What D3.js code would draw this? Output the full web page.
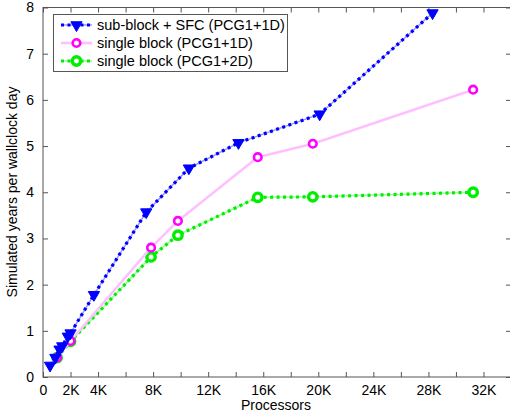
<!DOCTYPE html>
<html>
<head>
<meta charset="utf-8">
<script src="https://cdn.jsdelivr.net/npm/d3@7"></script>
<style>
  body { margin: 0; background: #fff; }
  text { font-family: "Liberation Sans", Arial, sans-serif; }
</style>
</head>
<body>
<div id="chart"></div>
<script>
// data
var seriesNames = ["sub-block + SFC (PCG1+1D)", "single block (PCG1+1D)", "single block (PCG1+2D)"];
var sfcProcs = [512, 900, 1200, 1400, 1800, 2000, 3700, 7500, 10600, 14200, 20100, 28300];
var sfcYears = [0.25, 0.42, 0.6, 0.67, 0.88, 0.95, 1.78, 3.57, 4.52, 5.07, 5.69, 7.88];
var singleProcs = [1024, 2000, 7850, 9800, 15600, 19600, 31250];
var single1dYears = [0.42, 0.78, 2.8, 3.38, 4.76, 5.05, 6.22];
var single2dYears = [0.42, 0.77, 2.6, 3.07, 3.89, 3.9, 4.0];
var xTicks = [0, 2000, 4000, 6000, 8000, 10000, 12000, 14000, 16000, 18000, 20000, 22000, 24000, 26000, 28000, 30000, 32000];
var xLabelled = [0, 2000, 4000, 8000, 12000, 16000, 20000, 24000, 28000, 32000];
var yTicks = [0, 1, 2, 3, 4, 5, 6, 7, 8];

var W = 510, H = 413;
var padL = 43, padT = 7.5, padR = 511, padB = 377;

var svg = d3.select("#chart").append("svg")
  .attr("width", W).attr("height", H);

var x = d3.scaleLinear().domain([0, 34000]).range([padL, padR]);
var y = d3.scaleLinear().domain([0, 8]).range([padB, padT]);

var axisCol = "#555";

function fmtK(d) { return d == 0 ? "0" : (d / 1000) + "K"; }

// frame
svg.append("rect")
  .attr("x", padL).attr("y", padT)
  .attr("width", padR - padL).attr("height", padB - padT)
  .attr("fill", "none").attr("stroke", axisCol).attr("stroke-width", 1);

// ticks, inward on all four sides
var xb = svg.append("g").attr("transform", "translate(0," + padB + ")")
  .call(d3.axisBottom(x).tickValues(xTicks).tickSizeInner(-5).tickSizeOuter(0)
    .tickFormat(function(d) { return xLabelled.indexOf(d) >= 0 ? fmtK(d) : ""; }));
var xt = svg.append("g").attr("transform", "translate(0," + padT + ")")
  .call(d3.axisTop(x).tickValues(xTicks).tickSizeInner(-5).tickSizeOuter(0).tickFormat(""));
var yl = svg.append("g").attr("transform", "translate(" + padL + ",0)")
  .call(d3.axisLeft(y).tickValues(yTicks).tickSizeInner(-5).tickSizeOuter(0));
var yr = svg.append("g").attr("transform", "translate(" + padR + ",0)")
  .call(d3.axisRight(y).tickValues(yTicks).tickSizeInner(-5).tickSizeOuter(0).tickFormat(""));

[xb, xt, yl, yr].forEach(function(g) {
  g.select(".domain").remove();
  g.selectAll("line").attr("stroke", axisCol);
  g.selectAll("text").attr("fill", "#000").style("font-size", "14px")
    .style("font-family", "'Liberation Sans', Arial, sans-serif");
});
xb.selectAll("text").attr("dy", "0.75em").attr("y", 7);
yl.selectAll("text").attr("x", -9);

// axis titles
svg.append("text")
  .attr("x", 276).attr("y", 410)
  .attr("text-anchor", "middle").style("font-size", "14px")
  .text("Processors");
svg.append("text")
  .attr("transform", "translate(17," + 192 + ") rotate(-90)")
  .attr("text-anchor", "middle").style("font-size", "14px")
  .text("Simulated years per wallclock day");

// series
var series = [
  { name: seriesNames[0], xs: sfcProcs, ys: sfcYears, col: "#0000ff", halo: "#9999ff", mark: "tri" },
  { name: seriesNames[1], xs: singleProcs, ys: single1dYears, col: "#ff00ff", halo: "#ffc4ff", mark: "ring" },
  { name: seriesNames[2], xs: singleProcs, ys: single2dYears, col: "#00ee00", halo: "#99ff99", mark: "dot" }
];

var line = d3.line().x(function(d) { return x(d[0]); }).y(function(d) { return y(d[1]); });

function drawMarker(g, px, py, s) {
  if (s.mark == "tri") {
    g.append("path")
      .attr("d", d3.symbol().type(d3.symbolTriangle).size(55)())
      .attr("transform", "translate(" + px + "," + py + ") rotate(180)")
      .attr("fill", s.col).attr("stroke", s.col).attr("stroke-width", 1);
  } else if (s.mark == "ring") {
    g.append("circle").attr("cx", px).attr("cy", py).attr("r", 3.8)
      .attr("fill", "#fff").attr("stroke", s.col).attr("stroke-width", 2.6);
  } else {
    g.append("circle").attr("cx", px).attr("cy", py).attr("r", 4.2)
      .attr("fill", "#fff").attr("stroke", s.col).attr("stroke-width", 3.4);
  }
}

function drawLine(g, pts, s) {
  if (s.mark == "ring") {
    g.append("path").datum(pts).attr("d", line)
      .attr("fill", "none").attr("stroke", s.halo).attr("stroke-width", 2.6);
    g.append("path").datum(pts).attr("d", line)
      .attr("fill", "none").attr("stroke", "#ff99ff").attr("stroke-width", 1)
      .attr("stroke-dasharray", "1,1.5").attr("opacity", 0.5);
  } else {
    g.append("path").datum(pts).attr("d", line)
      .attr("fill", "none").attr("stroke", s.halo).attr("stroke-width", 1.5);
    g.append("path").datum(pts).attr("d", line)
      .attr("fill", "none").attr("stroke", s.col).attr("stroke-width", 3.2)
      .attr("stroke-dasharray", "3,3.5");
  }
}

// draw in reverse so the blue series sits on top
series.slice().reverse().forEach(function(s) {
  var g = svg.append("g");
  var pts = s.xs.map(function(v, i) { return [v, s.ys[i]]; });
  drawLine(g, pts, s);
  pts.forEach(function(p) { drawMarker(g, x(p[0]), y(p[1]), s); });
});

// legend
var lg = svg.append("g");
lg.append("rect")
  .attr("x", 53.5).attr("y", 14.5).attr("width", 234).attr("height", 57)
  .attr("fill", "#fff").attr("stroke", axisCol).attr("stroke-width", 1);
series.forEach(function(s, i) {
  var ly = 25 + i * 18;
  drawLine(lg, [[x.invert(61), y.invert(ly)], [x.invert(92), y.invert(ly)]], s);
  drawMarker(lg, 76.5, ly, s);
  lg.append("text").attr("x", 97).attr("y", ly + 5)
    .style("font-size", "14.5px").text(s.name);
});
</script>
</body>
</html>
